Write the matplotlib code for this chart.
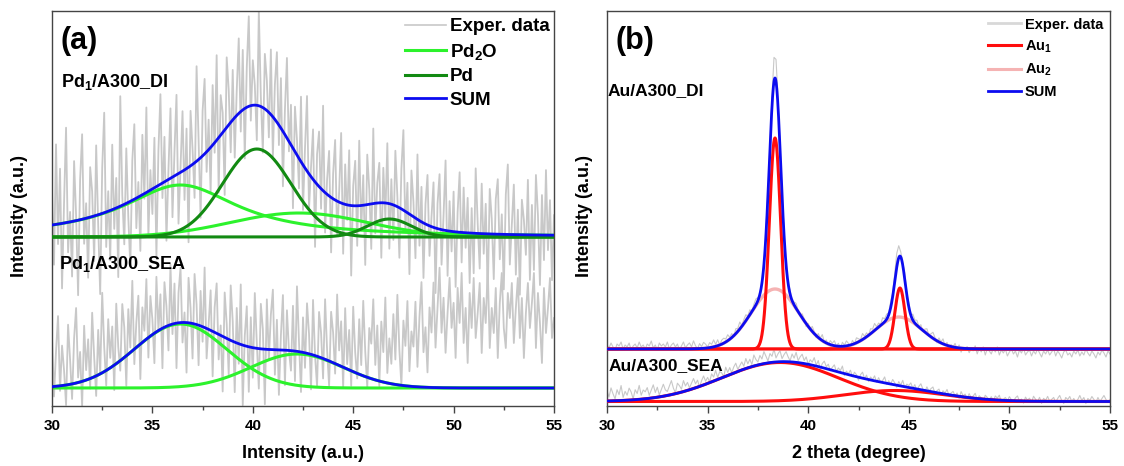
import numpy as np
import matplotlib
matplotlib.use("Agg")
import matplotlib.pyplot as plt
from matplotlib.lines import Line2D
from matplotlib.ticker import MultipleLocator

plt.rcParams.update({
    "font.family": ["Liberation Sans", "DejaVu Sans"],
    "font.weight": "bold",
    "axes.labelweight": "bold",
    "mathtext.fontset": "custom",
    "mathtext.rm": "Liberation Sans:bold",
    "mathtext.it": "Liberation Sans:bold",
    "mathtext.bf": "Liberation Sans:bold",
    "mathtext.default": "bf",
})

# ---------------------------------------------------------------- data
x_ticks = [30, 35, 40, 45, 50, 55]

# (a) Pd samples: fitted components (centre in deg, height, width)
pd2o_di_centers = [36.4, 42.3]
pd2o_di_heights = [52, 24]
pd2o_di_widths = [3.5, 3.4]
pd2o_di_shapes = ["lorentz", "gauss"]
pd_di_centers = [40.2, 46.8]
pd_di_heights = [88, 18]
pd_di_widths = [1.7, 1.1]
pd2o_sea_centers = [36.4, 42.2]
pd2o_sea_heights = [64, 34]
pd2o_sea_widths = [2.3, 2.3]

# (b) Au samples: fitted components
au1_di_centers = [38.35, 44.56]
au1_di_heights = [211, 61]
au1_di_widths = [0.28, 0.25]
au2_di_centers = [38.35, 44.5]
au2_di_heights = [60, 32]
au2_di_widths = [1.18, 1.15]
au_sea_centers = [38.6, 44.3]
au_sea_heights = [39, 11]
au_sea_widths = [2.9, 2.5]

# measured patterns, 30-55 deg in 0.1 deg steps, given as deviation from the fit sum
pd_di_residual = [
    35, -40, 80, -20, 55, -65, 20, 95, -30, 10,
    -55, 60, 5, -75, 40, 85, -25, 15, -60, 50,
    25, -45, 70, -10, -80, 45, 100, -35, 20, -50,
    65, -20, 30, -70, 110, 10, -40, 55, -15, -65,
    40, 75, -30, 15, -55, 60, -5, 85, -45, 20,
    -25, 50, -70, 35, 90, -15, 45, -60, 10, 70,
    -40, 25, 80, -50, 5, 60, -30, 40, -75, 55,
    15, -35, 95, 20, -60, 45, 75, -20, 30, -45,
    60, -10, 85, -55, 40, 20, -65, 70, 35, -30,
    50, -40, 25, 75, -20, 60, -50, 40, 90, -15,
    45, 20, -35, 95, 10, -45, 55, 30, -25, 65,
    -40, 35, 70, -20, 50, -55, 25, 80, -10, 40,
    -60, 45, 15, -30, 65, -45, 20, 75, -35, 10,
    50, -65, 30, 55, -20, 85, -40, 15, 45, -55,
    25, 60, -35, 10, 70, -50, 40, -15, 55, -70,
    20, 45, -40, 65, -25, 30, -60, 50, 15, -45,
    75, -30, 20, 40, -55, 35, -15, 60, -45, 25,
    -35, 55, 10, -50, 40, 80, -20, 30, -60, 45,
    15, -40, 65, -25, 35, -55, 20, 50, -30, 10,
    45, -65, 25, 55, -35, 15, 70, -45, 30, -20,
    40, -55, 20, 60, -30, 45, -15, 35, -50, 25,
    -40, 65, 10, -35, 50, -20, 30, -60, 45, 15,
    -45, 35, 55, -25, 20, -55, 40, 70, -30, 10,
    50, -40, 25, -60, 35, 15, -20, 55, -45, 30,
    -35, 60, 20, -50, 40, -25, 65, -15, 35, -45,
    20,
]
pd_sea_residual = [
    50, -10, 35, 70, -5, 40, 15, -20, 60, 25,
    -15, 45, 75, 5, 30, -25, 55, 10, 40, -10,
    65, 20, -20, 45, 0, 80, 25, -15, 50, 10,
    40, -25, 60, 15, -10, 55, 30, -30, 45, 5,
    70, -15, 25, 50, -35, 35, 10, 60, -20, 40,
    15, -30, 55, 0, 35, -40, 45, 20, -25, 60,
    -10, 40, -45, 30, 55, -20, 10, -50, 45, 15,
    -35, 50, 20, -40, 35, -15, 60, -30, 5, 40,
    -45, 25, 50, -25, 10, -55, 45, 15, -35, 55,
    20, -50, 35, -20, 60, -60, 10, 40, -45, 30,
    -30, 55, 5, -40, 45, 20, -55, 50, -10, 35,
    60, -25, 30, -45, 15, 55, -35, 40, 0, -20,
    45, -30, 65, 10, -40, 35, -15, 50, 20, -35,
    55, 0, -30, 45, 25, -20, 60, 10, -25, 50,
    30, -10, 70, 15, 45, -20, 60, 5, 40, -15,
    65, 20, -5, 55, 10, 75, 25, -10, 50, 35,
    80, 15, 55, -5, 60, 30, 85, 10, 45, 20,
    70, 25, 90, 35, 0, 65, 40, 85, 15, 55,
    40, 85, 20, 70, 105, 35, 60, 15, 80, 55,
    105, 40, 80, 120, 55, 90, 35, 75, 110, 60,
    85, 30, 100, 65, 115, 45, 80, 25, 95, 60,
    110, 50, 75, 105, 35, 90, 65, 120, 40, 80,
    55, 100, 30, 85, 115, 60, 40, 95, 70, 105,
    45, 80, 110, 50, 90, 30, 75, 105, 60, 85,
    115, 40, 95, 65, 25, 100, 55, 80, 110, 50,
    70,
]
au_di_residual = [
    4, 1, 6, 2, -1, 5, 3, 7, 0, 4,
    2, 6, -1, 3, 5, 1, 7, 2, 4, 0,
    5, 3, 8, 1, 4, -1, 6, 3, 5, 2,
    7, 0, 4, 6, 2, 5, -1, 3, 7, 1,
    4, 6, 2, 8, 3, 0, 5, 2, 6, 4,
    1, 5, 3, 7, 2, 6, 0, 4, 5, 3,
    6, 2, 4, -1, 5, 3, 7, 1, 4, 6,
    2, 5, 0, 4, 6, 3, -2, 5, 3, 8,
    4, 6, 10, 24, 22, 9, 5, 2, 6, 3,
    0, 4, -2, 3, 5, 1, -1, 4, 2, -3,
    3, 0, 5, 2, -2, 4, 1, 6, 0, 3,
    -1, 4, 2, 5, 0, 3, -2, 4, 1, 5,
    2, -1, 4, 0, 5, 3, 1, 6, 2, 4,
    0, 5, 3, 7, 2, 4, 1, 6, 3, 5,
    2, 6, 4, 8, 14, 12, 5, 3, 7, 2,
    4, 0, 6, 3, 5, 1, 4, -1, 3, 5,
    0, 3, 6, 2, -2, 4, 1, 5, -1, 3,
    -3, 2, 0, 4, -2, 3, -4, 1, -1, 2,
    -4, 0, -2, 3, -5, 1, -3, 2, -6, 0,
    -2, -5, 1, -3, 2, -6, -1, -4, 0, -7,
    -3, 0, -5, -2, -8, -1, -4, 1, -6, -3,
    -1, -7, -2, -5, 0, -4, -8, -2, -5, -1,
    -6, -3, 0, -7, -2, -5, -9, -3, -1, -6,
    -4, -8, -2, -5, -1, -7, -3, -6, 0, -4,
    -7, -2, -5, -9, -3, -6, -1, -4, -8, -2,
    -5,
]
au_sea_residual = [
    10, 4, 13, 7, 2, 11, 6, 15, 3, 9,
    5, 12, 8, 1, 10, 6, 14, 4, 9, 7,
    11, 3, 8, 13, 5, 10, 2, 7, 12, 6,
    4, 9, 14, 6, 1, 10, 7, 3, 11, 5,
    8, 2, 6, 10, 4, 7, -1, 5, 9, 3,
    6, 1, 8, 4, 10, 2, 7, 5, 0, 9,
    3, 7, 1, 6, 9, 2, 5, 8, 3, 10,
    4, 8, 2, 11, 6, 3, 9, 5, 12, 7,
    2, 9, 6, 13, 4, 8, 11, 3, 7, 10,
    5, 1, 8, 4, 10, 2, 6, 9, 3, 7,
    0, 5, 3, 8, 1, 6, -2, 4, 7, 2,
    5, -1, 3, 6, 0, 4, 2, 7, -2, 3,
    1, 5, -1, 4, 2, -3, 3, 6, 0, 4,
    -2, 3, 1, 5, -1, 4, 0, 2, 6, -1,
    3, 0, 5, 2, -2, 4, 1, 6, -1, 3,
    2, 5, 0, 4, -2, 3, 6, 1, -1, 4,
    0, 3, 5, -1, 2, 4, -2, 3, 1, 5,
    -1, 2, 4, 0, 3, -2, 5, 1, 3, -1,
    4, 0, 2, 5, -1, 3, 1, -2, 4, 2,
    0, 3, -1, 4, 2, 5, -2, 1, 3, 0,
    4, 1, -1, 3, 5, 0, 2, -2, 4, 1,
    3, -1, 5, 2, 0, 4, -2, 3, 1, 5,
    0, 2, 4, -1, 3, 6, 1, -2, 4, 2,
    5, 0, 3, -1, 2, 6, 1, 4, -2, 3,
    1, 5, 2, -1, 4, 0, 3, 6, 2, -1,
    2,
]

# vertical offsets of the stacked patterns
PD_DI_OFFSET, PD_SEA_OFFSET = 169, 18
AU_DI_OFFSET, AU_SEA_OFFSET = 57, 4.5
Y_TOP = 395

# colours
C_EXP = "#c8c8c8"
C_PD2O = "#2cf22c"
C_PD = "#128a12"
C_SUM = "#0c0cf0"
C_AU1 = "#ff0d0d"
C_AU2 = "#f5b3b3"


def peak(x, c, h, w, shape="gauss"):
    if shape == "lorentz":
        return h / (1.0 + ((x - c) / w) ** 2)
    return h * np.exp(-(x - c) ** 2 / (2.0 * w ** 2))


def components(x, centers, heights, widths, shapes=None):
    shapes = shapes or ["gauss"] * len(centers)
    return [peak(x, c, h, w, s) for c, h, w, s in zip(centers, heights, widths, shapes)]


x_fit = np.linspace(30, 55, 2501)


def style_axis(ax, xlabel):
    ax.set_xlim(30, 55)
    ax.set_ylim(0, Y_TOP)
    ax.set_xticks(x_ticks)
    ax.xaxis.set_minor_locator(MultipleLocator(2.5))
    ax.tick_params(axis="x", which="major", direction="out", length=5, width=1.0,
                   labelsize=11, pad=4, color="#444444")
    ax.tick_params(axis="x", which="minor", direction="out", length=3, width=1.0,
                   color="#444444")
    ax.tick_params(axis="y", which="both", left=False, labelleft=False)
    for sp in ax.spines.values():
        sp.set_color("#444444")
        sp.set_linewidth(1.0)
    ax.set_xlabel(xlabel, fontsize=13, labelpad=9)
    ax.set_ylabel("Intensity (a.u.)", fontsize=13)


fig = plt.figure(figsize=(11.24, 4.66), dpi=100)
ax_a = fig.add_axes([52 / 1124, 1 - 406 / 466, 502 / 1124, 395 / 466])
ax_b = fig.add_axes([607 / 1124, 1 - 406 / 466, 503 / 1124, 395 / 466])

# ---------------------------------------------------------------- panel (a)
ax = ax_a
x_exp = np.linspace(30, 55, len(pd_di_residual))
di_parts_exp = (components(x_exp, pd2o_di_centers, pd2o_di_heights, pd2o_di_widths, pd2o_di_shapes)
                + components(x_exp, pd_di_centers, pd_di_heights, pd_di_widths))
ax.plot(x_exp, PD_DI_OFFSET + sum(di_parts_exp) + np.array(pd_di_residual),
        color=C_EXP, lw=1.3, zorder=1)
sea_parts_exp = components(x_exp, pd2o_sea_centers, pd2o_sea_heights, pd2o_sea_widths)
ax.plot(x_exp, PD_SEA_OFFSET + sum(sea_parts_exp) + np.array(pd_sea_residual),
        color=C_EXP, lw=1.3, zorder=1)

pd2o_di = components(x_fit, pd2o_di_centers, pd2o_di_heights, pd2o_di_widths, pd2o_di_shapes)
pd_di = components(x_fit, pd_di_centers, pd_di_heights, pd_di_widths)
pd2o_sea = components(x_fit, pd2o_sea_centers, pd2o_sea_heights, pd2o_sea_widths)
for y in pd2o_di:
    ax.plot(x_fit, PD_DI_OFFSET + y, color=C_PD2O, lw=2.2, zorder=2)
for y in pd_di:
    ax.plot(x_fit, PD_DI_OFFSET + y, color=C_PD, lw=2.2, zorder=3)
ax.plot(x_fit, PD_DI_OFFSET + sum(pd2o_di) + sum(pd_di), color=C_SUM, lw=2.0, zorder=4)
for y in pd2o_sea:
    ax.plot(x_fit, PD_SEA_OFFSET + y, color=C_PD2O, lw=2.2, zorder=2)
ax.plot(x_fit, PD_SEA_OFFSET + sum(pd2o_sea), color=C_SUM, lw=2.0, zorder=4)

style_axis(ax, "Intensity (a.u.)")
ax.yaxis.set_label_coords(-0.047, 0.48)
ax.text(0.017, 0.925, "(a)", transform=ax.transAxes, fontsize=22, va="center", ha="left")
ax.text(30.45, 319, "Pd$_1$/A300_DI", fontsize=13, ha="left", va="baseline")
ax.text(30.35, 137, "Pd$_1$/A300_SEA", fontsize=13, ha="left", va="baseline")
handles = [Line2D([], [], color=C_EXP, lw=1.2),
           Line2D([], [], color=C_PD2O, lw=2.2),
           Line2D([], [], color=C_PD, lw=2.2),
           Line2D([], [], color=C_SUM, lw=2.0)]
ax.legend(handles, ["Exper. data", "Pd$_2$O", "Pd", "SUM"], loc="upper right",
          bbox_to_anchor=(1.005, 1.0), frameon=False, fontsize=13.5, handlelength=2.2,
          handletextpad=0.2, labelspacing=0.34, borderaxespad=0.0, borderpad=0.38)

# ---------------------------------------------------------------- panel (b)
ax = ax_b
x_exp = np.linspace(30, 55, len(au_di_residual))
au_di_exp = (sum(components(x_exp, au1_di_centers, au1_di_heights, au1_di_widths))
             + sum(components(x_exp, au2_di_centers, au2_di_heights, au2_di_widths)))
ax.plot(x_exp, AU_DI_OFFSET + au_di_exp + np.array(au_di_residual), color=C_EXP, lw=0.8, zorder=1)
au_sea_exp = sum(components(x_exp, au_sea_centers, au_sea_heights, au_sea_widths))
ax.plot(x_exp, AU_SEA_OFFSET + au_sea_exp + np.array(au_sea_residual), color=C_EXP, lw=0.8, zorder=1)

au1_di = components(x_fit, au1_di_centers, au1_di_heights, au1_di_widths)
au2_di = components(x_fit, au2_di_centers, au2_di_heights, au2_di_widths)
au_sea = components(x_fit, au_sea_centers, au_sea_heights, au_sea_widths)
for y in au2_di:
    ax.plot(x_fit, AU_DI_OFFSET + y, color=C_AU2, lw=2.4, zorder=2)
for y in au1_di:
    ax.plot(x_fit, AU_DI_OFFSET + y, color=C_AU1, lw=2.2, zorder=3)
ax.plot(x_fit, AU_DI_OFFSET + sum(au1_di) + sum(au2_di), color=C_SUM, lw=2.0, zorder=4)
for y in au_sea:
    ax.plot(x_fit, AU_SEA_OFFSET + y, color=C_AU1, lw=2.2, zorder=3)
ax.plot(x_fit, AU_SEA_OFFSET + sum(au_sea), color=C_SUM, lw=2.0, zorder=4)

style_axis(ax, "2 theta (degree)")
ax.yaxis.set_label_coords(-0.028, 0.48)
ax.text(0.016, 0.925, "(b)", transform=ax.transAxes, fontsize=22, va="center", ha="left")
ax.text(30.05, 311, "Au/A300_DI", fontsize=12.5, ha="left", va="baseline")
ax.text(30.1, 36, "Au/A300_SEA", fontsize=12.5, ha="left", va="baseline")
handles = [Line2D([], [], color="#d8d8d8", lw=2.0),
           Line2D([], [], color=C_AU1, lw=2.2),
           Line2D([], [], color=C_AU2, lw=2.2),
           Line2D([], [], color=C_SUM, lw=2.0)]
ax.legend(handles, ["Exper. data", "Au$_1$", "Au$_2$", "SUM"], loc="upper right",
          bbox_to_anchor=(1.0, 1.0), frameon=False, fontsize=10.5, handlelength=2.3,
          handletextpad=0.25, labelspacing=0.47, borderaxespad=0.0, borderpad=0.45)

fig.savefig("out.png", dpi=100)
